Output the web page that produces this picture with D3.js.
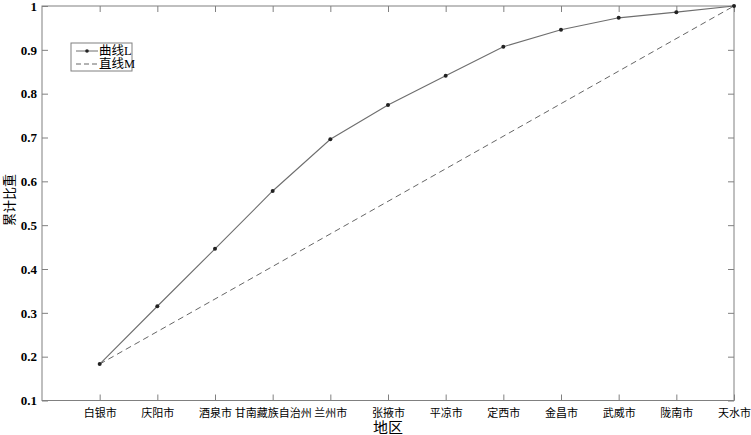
<!DOCTYPE html>
<html><head><meta charset="utf-8">
<script src="https://cdn.jsdelivr.net/npm/d3@7"></script>
<style>
body{margin:0;background:#fff;}
text{font-family:"Liberation Serif","Times New Roman","Noto Sans CJK SC",serif;}
</style></head>
<body><svg id="c" width="751" height="435"></svg>
<script>
const categories = ["白银市","庆阳市","酒泉市","甘南藏族自治州","兰州市","张掖市","平凉市","定西市","金昌市","武威市","陇南市","天水市"];
const curveL = [0.183,0.315,0.446,0.578,0.696,0.774,0.841,0.907,0.946,0.973,0.986,1.0];
const lineMIdx = [0, 11];
const lineM = [0.183, 1.0];
const yTicks = [0.1,0.2,0.3,0.4,0.5,0.6,0.7,0.8,0.9,1];
const legendLabels = ["曲线L","直线M"];

const svg = d3.select("#c");
const L=42, R=734, T=6, B=400.5;
const x = d3.scaleLinear().domain([-1, categories.length-1]).range([L,R]);
const y = d3.scaleLinear().domain([0.1,1]).range([B,T]);
const axisCol = "#808080";

svg.append("rect").attr("x",L).attr("y",T).attr("width",R-L).attr("height",B-T)
  .attr("fill","none").attr("stroke",axisCol).attr("stroke-width",1);

const gx = svg.append("g").attr("transform",`translate(0,${B})`)
  .call(d3.axisBottom(x).tickValues(d3.range(categories.length)).tickFormat(i=>categories[i]).tickSizeInner(-6).tickSizeOuter(0).tickPadding(9));
gx.select(".domain").remove();
gx.selectAll("line").attr("stroke",axisCol);
gx.selectAll("text").attr("font-size","11px").attr("fill","#000").attr("font-family","'Noto Sans CJK SC',serif");
const gxt = svg.append("g").attr("transform",`translate(0,${T})`)
  .call(d3.axisTop(x).tickValues(d3.range(categories.length)).tickFormat("").tickSizeInner(-6).tickSizeOuter(0));
gxt.select(".domain").remove();
gxt.selectAll("line").attr("stroke",axisCol);

const gy = svg.append("g").attr("transform",`translate(${L},0)`)
  .call(d3.axisLeft(y).tickValues(yTicks).tickFormat(d=>d3.format("~g")(d)).tickSizeInner(-6).tickSizeOuter(0).tickPadding(5));
gy.select(".domain").remove();
gy.selectAll("line").attr("stroke",axisCol);
gy.selectAll("text").attr("font-size","13px").attr("fill","#000").attr("font-weight","bold");
const gyr = svg.append("g").attr("transform",`translate(${R},0)`)
  .call(d3.axisRight(y).tickValues(yTicks).tickFormat("").tickSizeInner(-6).tickSizeOuter(0));
gyr.select(".domain").remove();
gyr.selectAll("line").attr("stroke",axisCol);

svg.append("text").attr("x",388).attr("y",433).attr("text-anchor","middle")
  .attr("font-size","15px").attr("font-family","'Noto Sans CJK SC',serif").text("地区");
svg.append("text").attr("transform",`translate(14,200) rotate(-90)`).attr("text-anchor","middle")
  .attr("font-size","13px").attr("font-family","'Noto Sans CJK SC',serif").text("累计比重");

const lineGen = d3.line().x(d=>x(d[0])).y(d=>y(d[1]));
svg.append("path").datum(lineMIdx.map((i,k)=>[i,lineM[k]])).attr("d",lineGen)
  .attr("fill","none").attr("stroke","#666").attr("stroke-width",1).attr("stroke-dasharray","6,4");

svg.append("path").datum(curveL.map((v,i)=>[i,v])).attr("d",lineGen)
  .attr("fill","none").attr("stroke","#6e6e6e").attr("stroke-width",1.1);
svg.selectAll(".mk").data(curveL).enter().append("circle")
  .attr("cx",(d,i)=>x(i)).attr("cy",d=>y(d)).attr("r",2).attr("fill","#222");

const lg = svg.append("g");
lg.append("rect").attr("x",71).attr("y",43).attr("width",61).attr("height",28)
  .attr("fill","#fff").attr("stroke","#808080");
lg.append("line").attr("x1",76).attr("x2",98).attr("y1",51).attr("y2",51).attr("stroke","#6e6e6e");
lg.append("circle").attr("cx",87).attr("cy",51).attr("r",1.8).attr("fill","#222");
lg.append("line").attr("x1",76).attr("x2",98).attr("y1",64).attr("y2",64).attr("stroke","#666").attr("stroke-dasharray","5,3");
legendLabels.forEach((t,i)=>{
  lg.append("text").attr("x",99).attr("y",55+i*13).attr("font-size","12.5px")
    .attr("font-family","'Noto Sans CJK SC',serif").text(t);
});
</script></body></html>
